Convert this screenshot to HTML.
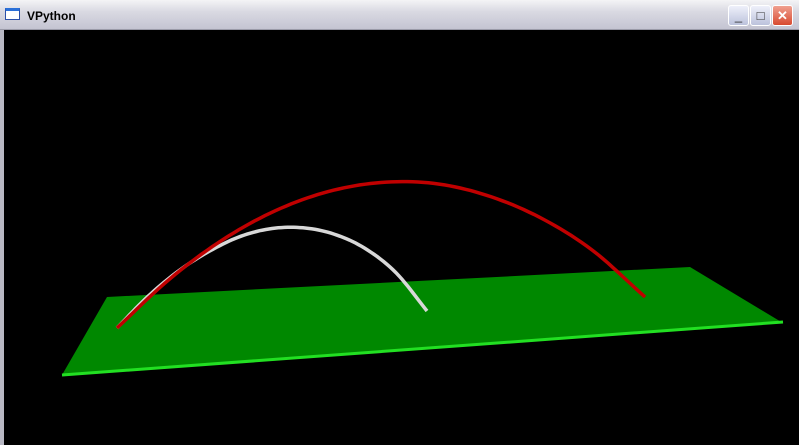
<!DOCTYPE html>
<html><head><meta charset="utf-8"><style>
body{margin:0;width:799px;height:445px;overflow:hidden;background:#000;font-family:"Liberation Sans",sans-serif}
#title{position:absolute;left:0;top:0;width:799px;height:30px;background:linear-gradient(#f4f4f6,#d9d9e2 40%,#c4c4d2);border-bottom:1px solid #9a9aa8;box-sizing:border-box}
#title span{position:absolute;left:27px;top:9px;font-size:12px;font-weight:bold;color:#000}
#icon{position:absolute;left:5px;top:8px;width:15px;height:12px;border:1px solid #2a4fa8;background:#fff;border-top:3px solid #2a6fd8;box-sizing:border-box}
.btn{position:absolute;top:5px;width:21px;height:21px;border:1px solid #fff;border-radius:3px;box-sizing:border-box;background:linear-gradient(#eef0fa,#bcc2dc);color:#333;font-size:13px;text-align:center;line-height:19px}
#close{background:linear-gradient(#f0a090,#d84a30);color:#fff;font-weight:bold}
#frame{position:absolute;left:0;top:30px;width:799px;height:415px;border-left:4px solid #b8b8c4;box-sizing:border-box}
svg{position:absolute;left:0;top:0}
</style></head><body>
<div id="title"><div id="icon"></div><span>VPython</span>
<div class="btn" style="left:728px">_</div>
<div class="btn" style="left:750px">□</div>
<div class="btn" id="close" style="left:772px">✕</div></div>
<div id="frame"></div>
<svg id="s" width="799" height="445">
<polygon points="107,297 690,267 783,323 62,375" fill="#008800"/>
<polyline points="62,375 783,322" stroke="#22e022" stroke-width="3" fill="none"/>
</svg>
<script>
// fractions of range, and heights (px)
const fractions=[0,0.1,0.2,0.3,0.4,0.5,0.6,0.7,0.8,0.9,1];
const redHeights=[0,46,82,108,124,130,126,111,86,50,0];
const whiteHeights=[0,30,54,72,85,91,90,82,66,40,0];
const launch=[117,328];
const redLanding=[645,297];
const whiteLanding=[427,311];
function px(f,end){return launch[0]+f*(end[0]-launch[0]);}
function py(f,h,end){return launch[1]+f*(end[1]-launch[1])-h;}
const svg=document.getElementById('s');
function draw(h,end,color,name){
  const pts=[];
  for(let i=0;i<fractions.length-1;i++){
    for(let k=0;k<10;k++){
      const t=k/10,f=fractions[i]+t*(fractions[i+1]-fractions[i]);
      const pv=i>0?h[i-1]:2*h[i]-h[i+1],nx=i+2<h.length?h[i+2]:2*h[i+1]-h[i];
      const m0=(h[i+1]-pv)/2,m1=(nx-h[i])/2;
      const hc=(2*t*t*t-3*t*t+1)*h[i]+(t*t*t-2*t*t+t)*m0+(-2*t*t*t+3*t*t)*h[i+1]+(t*t*t-t*t)*m1;
      pts.push(px(f,end).toFixed(1)+','+py(f,hc,end).toFixed(1));
    }
  }
  pts.push(px(1,end)+','+py(1,h[h.length-1],end));
  const p=document.createElementNS('http://www.w3.org/2000/svg','polyline');
  p.setAttribute('points',pts.join(' '));
  p.setAttribute('fill','none');p.setAttribute('stroke',color);p.setAttribute('stroke-width','3.5');
  
  
  svg.appendChild(p);
}
draw(whiteHeights,whiteLanding,'#d8d8d8','white-trajectory');
draw(redHeights,redLanding,'#c00000','red-trajectory');
</script>
</body></html>
